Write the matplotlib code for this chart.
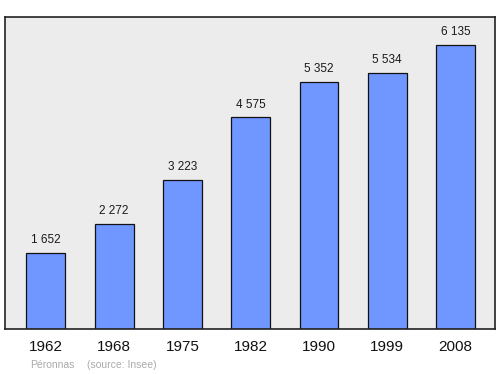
import matplotlib
matplotlib.use("Agg")
import matplotlib.pyplot as plt

years = ["1962", "1968", "1975", "1982", "1990", "1999", "2008"]
population = [1652, 2272, 3223, 4575, 5352, 5534, 6135]
value_labels = ["1 652", "2 272", "3 223", "4 575", "5 352", "5 534", "6 135"]

plt.rcParams["font.family"] = ["Liberation Sans", "DejaVu Sans"]

fig = plt.figure(figsize=(5, 3.74), dpi=100)
ax = fig.add_axes([0.01, 0.1203, 0.98, 0.8342])
ax.set_facecolor("#ececec")

x = range(len(years))
ax.bar(x, population, width=0.57, color="#7096ff", edgecolor="#111111", linewidth=0.9)
for i, (v, lab) in enumerate(zip(population, value_labels)):
    ax.annotate(lab, (i, v), xytext=(0, 5), textcoords="offset points",
                ha="center", va="bottom", fontsize=8.5, color="#1a1a1a")

ax.set_xlim(-0.597, 6.577)
ax.set_ylim(0, 6748)
ax.set_xticks(list(x))
ax.set_xticklabels(years, fontsize=11, color="#111111")
ax.tick_params(axis="x", length=0, pad=8)
ax.set_yticks([])
for s in ax.spines.values():
    s.set_color("#222222")
    s.set_linewidth(1.2)

fig.text(30 / 500, 1 - 365 / 374, "Péronnas", fontsize=7.5, color="#aaaaaa", va="center")
fig.text(87 / 500, 1 - 365 / 374, "(source: Insee)", fontsize=7.5, color="#aaaaaa", va="center")

fig.savefig("out.png", dpi=100)
